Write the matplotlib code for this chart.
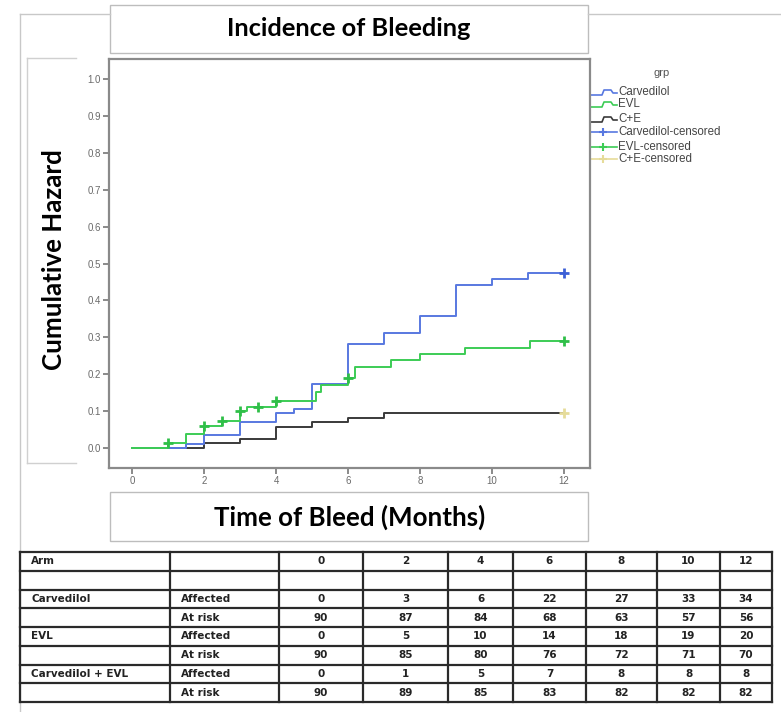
import matplotlib
matplotlib.use("Agg")
import matplotlib.pyplot as plt
from matplotlib.patches import Rectangle

# ---------------- data ----------------
carv_t = [0, 1.5, 2, 3, 4, 4.5, 5, 6, 7, 8, 9, 10, 11, 12]
carv_h = [0, 0.012, 0.036, 0.071, 0.094, 0.107, 0.173, 0.281, 0.312, 0.359, 0.442, 0.458, 0.475, 0.475]
carv_cens_t = [12]
carv_cens_h = [0.475]

evl_t = [0, 1, 1.5, 2, 2.5, 3, 3.2, 4, 5.1, 5.25, 6, 6.2, 7.2, 8, 9.25, 11.05, 12]
evl_h = [0, 0.014, 0.038, 0.060, 0.073, 0.100, 0.112, 0.127, 0.153, 0.171, 0.189, 0.220, 0.238, 0.254, 0.272, 0.290, 0.290]
evl_cens_t = [1, 2, 2.5, 3, 3.5, 4, 6, 12]
evl_cens_h = [0.014, 0.060, 0.073, 0.100, 0.112, 0.127, 0.189, 0.290]

ce_t = [0, 2, 3, 4, 5, 6, 7, 12]
ce_h = [0, 0.013, 0.024, 0.058, 0.070, 0.081, 0.094, 0.094]
ce_cens_t = [12]
ce_cens_h = [0.094]

legend_labels = ["Carvedilol", "EVL", "C+E", "Carvedilol-censored", "EVL-censored", "C+E-censored"]

x_ticks = [0, 2, 4, 6, 8, 10, 12]
y_ticks = [0.0, 0.1, 0.2, 0.3, 0.4, 0.5, 0.6, 0.7, 0.8, 0.9, 1.0]

title = "Incidence of Bleeding"
xlabel = "Time of Bleed (Months)"
ylabel = "Cumulative Hazard"

table_header = ["Arm", "", "0", "2", "4", "6", "8", "10", "12"]
table_rows = [
    ["", "", "", "", "", "", "", "", ""],
    ["Carvedilol", "Affected", "0", "3", "6", "22", "27", "33", "34"],
    ["", "At risk", "90", "87", "84", "68", "63", "57", "56"],
    ["EVL", "Affected", "0", "5", "10", "14", "18", "19", "20"],
    ["", "At risk", "90", "85", "80", "76", "72", "71", "70"],
    ["Carvedilol + EVL", "Affected", "0", "1", "5", "7", "8", "8", "8"],
    ["", "At risk", "90", "89", "85", "83", "82", "82", "82"],
]

# ---------------- styles ----------------
W, H = 781, 712
C_BLUE = "#5878e0"
C_GREEN = "#3ccc55"
C_BLACK = "#3a3a3a"
C_YEL = "#e6dc9a"
C_AX = "#8a8a8a"
C_TXT = "#6a6a6a"
BOLD_FONT = ["Lato", "DejaVu Sans"]

fig = plt.figure(figsize=(W / 100, H / 100), dpi=100)

def px_axes(l, t, r, b, **kw):
    return fig.add_axes([l / W, 1 - b / H, (r - l) / W, (b - t) / H], **kw)

# overlay in pixel coordinates
ov = fig.add_axes([0, 0, 1, 1])
ov.set_xlim(0, W)
ov.set_ylim(H, 0)
ov.axis("off")

# composite frame lines
ov.plot([20, 110], [14, 14], color="#c8c8c8", lw=1)
ov.plot([588, 781], [14, 14], color="#c8c8c8", lw=1)
ov.plot([20, 20], [14, 712], color="#c8c8c8", lw=1)
ov.plot([27, 76], [58, 58], color="#d0d0d0", lw=1)
ov.plot([27, 76], [463, 463], color="#d0d0d0", lw=1)
ov.plot([27, 27], [58, 463], color="#d0d0d0", lw=1)

# title box
ov.add_patch(Rectangle((110, 5), 478, 48, fill=True, facecolor="white", edgecolor="#bdbdbd", lw=1))
ov.text(349, 29, title, ha="center", va="center", fontsize=18.3, fontweight="bold",
        family=BOLD_FONT, color="black")
# x label box
ov.add_patch(Rectangle((110, 492), 478, 49, fill=True, facecolor="white", edgecolor="#bdbdbd", lw=1))
ov.text(350, 517, xlabel, ha="center", va="center", fontsize=18.6, fontweight="bold",
        family=BOLD_FONT, color="black")
# y label
ov.text(54, 260, ylabel, ha="center", va="center", rotation=90, fontsize=18.6,
        fontweight="bold", family=BOLD_FONT, color="black")

# ---------------- main plot ----------------
ax = px_axes(109, 59, 590, 468)
x0px, xscale = 132, 36.0
y0px, yscale = 448, 369.0
ax.set_xlim((109 - x0px) / xscale, (590 - x0px) / xscale)
ax.set_ylim((y0px - 468) / yscale, (y0px - 59) / yscale)
ax.set_facecolor("none")

ax.plot(ce_t, ce_h, drawstyle="steps-post", color=C_BLACK, lw=1.4, zorder=2)
ax.plot(carv_t, carv_h, drawstyle="steps-post", color=C_BLUE, lw=1.4, zorder=3)
ax.plot(evl_t, evl_h, drawstyle="steps-post", color=C_GREEN, lw=1.4, zorder=4)
ax.plot(ce_cens_t, ce_cens_h, ls="none", marker="+", ms=7, mew=2, color=C_YEL, zorder=5)
ax.plot(carv_cens_t, carv_cens_h, ls="none", marker="+", ms=7, mew=2, color="#3c5fd6", zorder=5)
ax.plot(evl_cens_t, evl_cens_h, ls="none", marker="+", ms=7, mew=2, color="#2fbf48", zorder=5)

for s in ax.spines.values():
    s.set_color(C_AX)
    s.set_linewidth(1.6)
ax.set_xticks(x_ticks)
ax.set_yticks(y_ticks)
ax.set_yticklabels([f"{v:.1f}" for v in y_ticks])
ax.tick_params(axis="both", direction="out", length=4, width=1.4, color=C_AX,
               labelsize=7, labelcolor=C_TXT, pad=2)
for lab in ax.get_xticklabels() + ax.get_yticklabels():
    lab.set_family("Liberation Sans")

# ---------------- legend (pixel coords) ----------------
ov.text(662, 73, "grp", ha="center", va="center", fontsize=8, color="#555",
        family="Liberation Sans")
leg_y = [92, 104, 119, 132, 147, 159]
leg_col = [C_BLUE, C_GREEN, C_BLACK, C_BLUE, C_GREEN, C_YEL]
for i, (lab, yy, c) in enumerate(zip(legend_labels, leg_y, leg_col)):
    if i < 3:
        ov.plot([591, 602, 604, 611, 613, 617], [yy + 3, yy + 3, yy - 2, yy - 2, yy + 1, yy + 1],
                color=c, lw=1.2)
    else:
        ov.plot([591, 617], [yy, yy], color=c, lw=1.2)
        ov.plot([603], [yy], marker="+", ms=6, mew=1.5, color=c)
    ov.text(618, yy, lab, ha="left", va="center", fontsize=8.3, color="#444",
            family="Liberation Sans")

# ---------------- table ----------------
col_edges = [20, 170, 279, 363, 448, 513, 586, 657, 720, 772]
row_top = 552
row_h = 18.75
all_rows = [table_header] + table_rows
n_rows = len(all_rows)
tcol = "#2a2a2a"
for k in range(n_rows + 1):
    yy = row_top + k * row_h
    ov.plot([col_edges[0], col_edges[-1]], [yy, yy], color=tcol, lw=1.6, solid_capstyle="projecting")
for xe in col_edges:
    ov.plot([xe, xe], [row_top, row_top + n_rows * row_h], color=tcol, lw=1.6,
            solid_capstyle="projecting")
for r, row in enumerate(all_rows):
    yc = row_top + (r + 0.5) * row_h
    for c, txt in enumerate(row):
        if not txt:
            continue
        if c < 2:
            ov.text(col_edges[c] + 11, yc, txt, ha="left", va="center", fontsize=7.5,
                    fontweight="bold", color="#222", family="DejaVu Sans")
        else:
            xc = (col_edges[c] + col_edges[c + 1]) / 2
            ov.text(xc, yc, txt, ha="center", va="center", fontsize=7.5,
                    fontweight="bold", color="#222", family="DejaVu Sans")

fig.savefig("out.png", dpi=100)
